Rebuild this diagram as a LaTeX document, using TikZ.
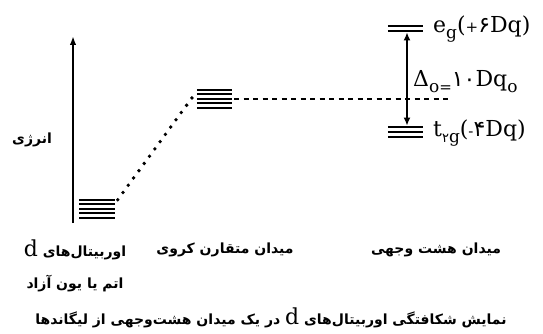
\documentclass[tikz,border=0pt]{standalone}
\usepackage{fontspec}
\setmainfont{DejaVu Serif}
\newfontfamily\fa[Script=Arabic]{DejaVu Sans}
\newfontfamily\fadig{DejaVu Sans}
\TeXXeTstate=1
\usetikzlibrary{arrows.meta}
\newcommand\mysub[1]{\raisebox{-0.28em}{\fontsize{17}{17}\selectfont #1}}
\newcommand\mysmall[1]{{\fontsize{15}{15}\selectfont #1}}
\begin{document}
\begin{tikzpicture}[x=1pt,y=-1pt,
  lvl/.style={line width=2.3pt},
  stack/.style={inner sep=0pt, minimum width=35pt},
  fa/.style={font=\fa\bfseries\fontsize{14}{16}\selectfont, inner sep=0pt},
  lab/.style={font=\fontsize{22}{25}\selectfont, inner sep=0pt, anchor=west}]
\useasboundingbox (0,0) rectangle (543,334);

% level stacks
\node[stack, minimum height=18pt] (free) at (97,209) {};
\foreach \i in {0,...,4}
  \draw[lvl] ([yshift=-\i*4.5pt]free.north west) -- ([yshift=-\i*4.5pt]free.north east);
\node[stack, minimum height=18pt] (sph) at (214.5,99) {};
\foreach \i in {0,...,4}
  \draw[lvl] ([yshift=-\i*4.5pt]sph.north west) -- ([yshift=-\i*4.5pt]sph.north east);
\node[stack, minimum height=5pt] (eg) at (405.5,28.5) {};
\foreach \i in {0,1}
  \draw[lvl] ([yshift=-\i*5pt]eg.north west) -- ([yshift=-\i*5pt]eg.north east);
\node[stack, minimum height=10pt] (t2g) at (405.5,132) {};
\foreach \i in {0,1,2}
  \draw[lvl] ([yshift=-\i*5pt]t2g.north west) -- ([yshift=-\i*5pt]t2g.north east);

% energy axis
\coordinate (ebot) at (73,223);
\coordinate (etop) at (73,36);
\draw[line width=2.3pt, -{Latex[length=9pt,width=6.5pt]}] (ebot) -- (etop);

% splitting arrow
\draw[line width=2.3pt, {Latex[length=8pt,width=7pt]}-{Latex[length=8pt,width=7pt]}]
  ([xshift=1.5pt,yshift=-1.2pt]eg.south) -- ([xshift=1.5pt,yshift=1.2pt]t2g.north);

% connectors
\coordinate (dashend) at (448,99);
\draw[line width=2.3pt, dash pattern=on 5pt off 4.5pt] ([xshift=2pt]sph.east) -- (dashend);
\draw[line width=3.8pt, line cap=round, dash pattern=on 0pt off 9pt]
  ([xshift=3pt]free.north east) -- ([xshift=-2pt,yshift=5pt]sph.west);

% labels
\node[lab] (eglab) at (433,29) {e\mysub{g}(\mysmall{+}{\fadig ۶}Dq)};
\node[lab] (dlab) at (413,82) {Δ\mysub{o\mysmall{=}}{\fadig ۱۰}Dq\mysub{o}};
\node[lab] (t2glab) at (433,133) {t\mysub{{\fadig\fontsize{13}{13}\selectfont ۲}g}(\mysmall{-}{\fadig ۴}Dq)};

\node[fa] (energy) at (32,140) {\beginR انرژی\endR};
\node[fa] (l1) at (75,250) {\beginR اوربیتال‌های \beginL{\rmfamily\mdseries\fontsize{22}{22}\selectfont d}\endL\endR};
\node[fa] (l2) at (75,284) {\beginR اتم یا یون آزاد\endR};
\node[fa] (l3) at (225,250) {\beginR میدان متقارن کروی\endR};
\node[fa] (l4) at (436,250) {\beginR میدان هشت وجهی\endR};
\node[fa] (cap) at (271,318) {\beginR نمایش شکافتگی اوربیتال‌های \beginL{\rmfamily\mdseries\fontsize{22}{22}\selectfont d}\endL{} در یک میدان هشت‌وجهی از لیگاندها\endR};
\end{tikzpicture}
\end{document}
